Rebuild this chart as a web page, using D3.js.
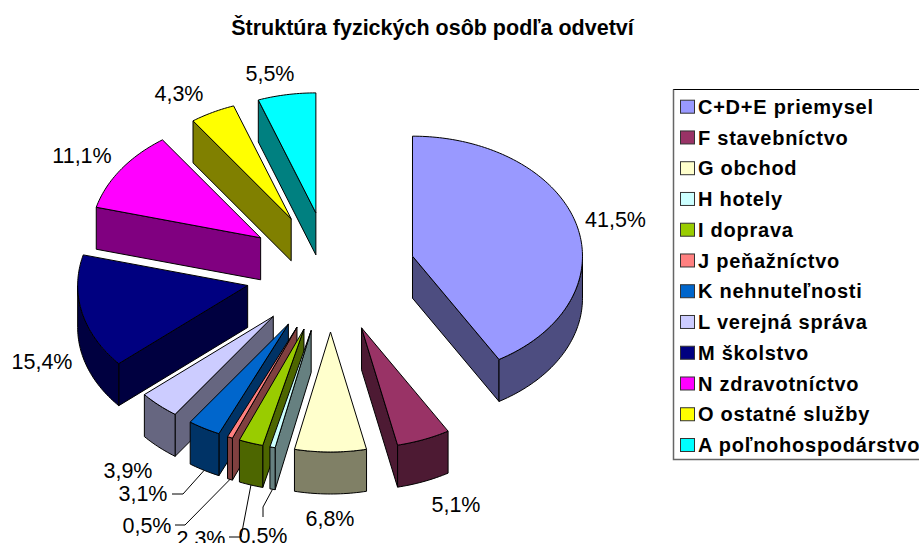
<!DOCTYPE html>
<html>
<head>
<meta charset="utf-8">
<script src="https://cdn.jsdelivr.net/npm/d3@7"></script>
<style>
  body { margin: 0; background: #fff; overflow: hidden; }
  text { font-family: "Liberation Sans", Arial, sans-serif; }
</style>
</head>
<body>
<div id="container"></div>
<script>
/* DATA */
const categories = ["C+D+E priemysel", "F stavebníctvo", "G obchod", "H hotely", "I doprava", "J peňažníctvo",
  "K nehnuteľnosti", "L verejná správa", "M školstvo", "N zdravotníctvo", "O ostatné služby", "A poľnohospodárstvo"];
const shares = [41.5, 5.1, 6.8, 0.5, 2.3, 0.5, 3.1, 3.9, 15.4, 11.1, 4.3, 5.5];
const shareLabels = ["41,5%", "5,1%", "6,8%", "0,5%", "2,3%", "0,5%", "3,1%", "3,9%", "15,4%", "11,1%", "4,3%", "5,5%"];
const colors = ["#9999FF", "#993366", "#FFFFCC", "#CCFFFF", "#99CC00", "#FF8080",
  "#0066CC", "#CCCCFF", "#000080", "#FF00FF", "#FFFF00", "#00FFFF"];

/* CONSTANTS AND GLOBALS */
const width = 919,
  height = 543,
  center = { x: 330.5, y: 272 },
  radius = { x: 170, y: 120 },
  depth = 42,
  explode = 0.5;

// label centres by hand, the chart placed them so
const labelPos = [[615.5, 219], [456, 504], [330, 518], [263, 535], [201, 538], [147, 525],
  [143, 493], [128, 470], [42, 361], [82, 155], [179, 93], [270, 73]];
// leader elbows for the small slices: index -> points from label towards slice
const leaders = {
  3: [[263, 517], [263, 507]],
  4: [[229, 537], [241, 537]],
  5: [[175, 525], [185, 525]],
  6: [[172, 494], [183, 494]]
};

const svg = d3.select("#container")
  .append("svg")
  .attr("width", width)
  .attr("height", height)
  .style("display", "block");

/* SCALES */
const xScale = d3.scaleLinear().domain([-1, 1]).range([center.x - radius.x, center.x + radius.x]);
const yScale = d3.scaleLinear().domain([-1, 1]).range([center.y - radius.y, center.y + radius.y]);

const pie = d3.pie().sort(null).value(d => d);
const slices = pie(shares).map((d, i) => {
  const mid = (d.startAngle + d.endAngle) / 2;
  return { ...d, i, dx: explode * Math.sin(mid), dy: -explode * Math.cos(mid), mid };
});

// point of a slice in screen space, r = 0 is the apex, drop = 1 is the bottom face
const pt = (s, angle, r, drop) => [
  xScale(s.dx + r * Math.sin(angle)),
  yScale(s.dy - r * Math.cos(angle)) + drop * depth
];
const arcAngles = (a, b) => {
  const n = Math.max(2, Math.ceil((b - a) / 0.02));
  return d3.range(n + 1).map(k => a + (b - a) * k / n);
};
const line = d3.line();
const dark = c => { const r = d3.rgb(c); return d3.rgb(r.r / 2, r.g / 2, r.b / 2).formatHex(); };

// back slices first
const order = slices.slice().sort((a, b) => a.dy - b.dy);

const pieG = svg.append("g")
  .attr("stroke", "#000")
  .attr("stroke-width", 1)
  .attr("stroke-linejoin", "round");

order.forEach(s => {
  const a0 = s.startAngle, a1 = s.endAngle;
  const side = dark(colors[s.i]);

  // radial walls
  [a0, a1].forEach((a, k) => {
    const visible = k === 0 ? Math.sin(a) < -1e-6 : Math.sin(a) > 1e-6;
    if (!visible) return;
    pieG.append("path")
      .attr("fill", side)
      .attr("d", line([pt(s, a, 0, 0), pt(s, a, 1, 0), pt(s, a, 1, 1), pt(s, a, 0, 1)]) + "Z");
  });

  // outer wall, only the part that faces front
  const w0 = Math.max(a0, Math.PI / 2), w1 = Math.min(a1, Math.PI * 1.5);
  if (w1 > w0) {
    const ang = arcAngles(w0, w1);
    const pts = ang.map(a => pt(s, a, 1, 0)).concat(ang.slice().reverse().map(a => pt(s, a, 1, 1)));
    pieG.append("path").attr("fill", side).attr("d", line(pts) + "Z");
  }

  // top face
  const top = [pt(s, 0, 0, 0)].concat(arcAngles(a0, a1).map(a => pt(s, a, 1, 0)));
  pieG.append("path").attr("fill", colors[s.i]).attr("d", line(top) + "Z");
});

/* LEADERS */
Object.keys(leaders).forEach(key => {
  const s = slices[+key];
  svg.append("path")
    .attr("fill", "none")
    .attr("stroke", "#000")
    .attr("stroke-width", 1)
    .attr("d", line(leaders[key].concat([pt(s, s.mid, 1, 1)])));
});

/* LABELS */
svg.selectAll(".pct")
  .data(shareLabels)
  .join("text")
  .attr("class", "pct")
  .attr("x", (d, i) => labelPos[i][0])
  .attr("y", (d, i) => labelPos[i][1])
  .attr("dy", "0.36em")
  .attr("text-anchor", "middle")
  .attr("font-size", "21.5px")
  .attr("fill", "#000")
  .text(d => d);

svg.append("text")
  .attr("x", 432.5)
  .attr("y", 35)
  .attr("text-anchor", "middle")
  .attr("font-size", "21.5px")
  .attr("font-weight", "bold")
  .text("Štruktúra fyzických osôb podľa odvetví");

/* LEGEND */
const legendRowY = d3.scalePoint().domain(categories).range([106.7, 445]);

svg.append("rect")
  .attr("x", 673.5).attr("y", 89.5)
  .attr("width", 260).attr("height", 370)
  .attr("fill", "#fff")
  .attr("stroke", "#000");

// left and bottom edges of the frame look grey in the picture
svg.append("path")
  .attr("fill", "none")
  .attr("stroke", "#666")
  .attr("stroke-width", 1.5)
  .attr("d", line([[673.5, 89.5], [673.5, 459.5], [919, 459.5]]));

const row = svg.selectAll(".legend-row")
  .data(categories)
  .join("g")
  .attr("class", "legend-row")
  .attr("transform", d => `translate(0,${legendRowY(d)})`);

row.append("rect")
  .attr("x", 680.5).attr("y", -6.5)
  .attr("width", 14).attr("height", 13)
  .attr("fill", (d, i) => colors[i])
  .attr("stroke", "#333");

row.append("text")
  .attr("x", 698)
  .attr("dy", "0.36em")
  .attr("font-size", "20px")
  .attr("font-weight", "bold")
  .attr("letter-spacing", "0.75px")
  .text(d => d);
</script>
</body>
</html>
